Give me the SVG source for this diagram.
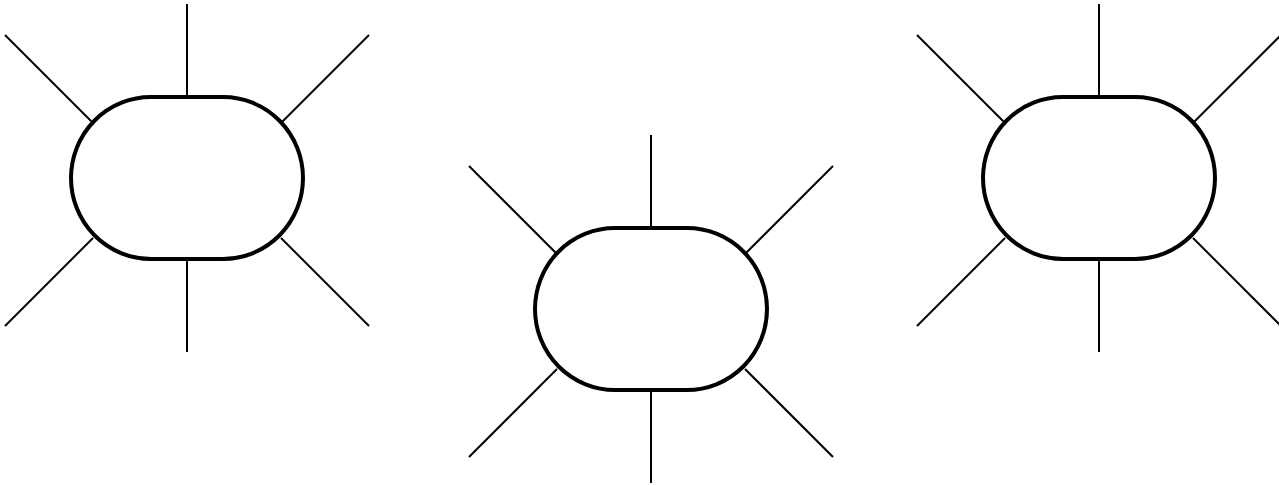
<svg xmlns="http://www.w3.org/2000/svg" width="1279" height="485" viewBox="0 0 1279 485">
<defs>
<style>
.ray{stroke:#000;stroke-width:2;fill:none}
.body{fill:#fff;stroke:#000;stroke-width:4}
</style>
<g id="rays">
<line class="ray" x1="0" y1="-174" x2="0" y2="-81"/>
<line class="ray" x1="0" y1="81" x2="0" y2="174"/>
<line class="ray" x1="-182" y1="-143" x2="-94" y2="-55"/>
<line class="ray" x1="182" y1="-143" x2="94" y2="-55"/>
<line class="ray" x1="-182" y1="148" x2="-94" y2="60"/>
<line class="ray" x1="182" y1="148" x2="94" y2="60"/>
</g>
</defs>
<rect width="1279" height="485" fill="#fff"/>
<g id="connectors">
<use href="#rays" transform="translate(187,178)"/>
<use href="#rays" transform="translate(651,309)"/>
<use href="#rays" transform="translate(1099,178)"/>
</g>
<g id="node-left" transform="translate(187,178)"><rect class="body" x="-116" y="-81" width="232" height="162" rx="80" ry="81"/></g>
<g id="node-center" transform="translate(651,309)"><rect class="body" x="-116" y="-81" width="232" height="162" rx="80" ry="81"/></g>
<g id="node-right" transform="translate(1099,178)"><rect class="body" x="-116" y="-81" width="232" height="162" rx="80" ry="81"/></g>
</svg>
